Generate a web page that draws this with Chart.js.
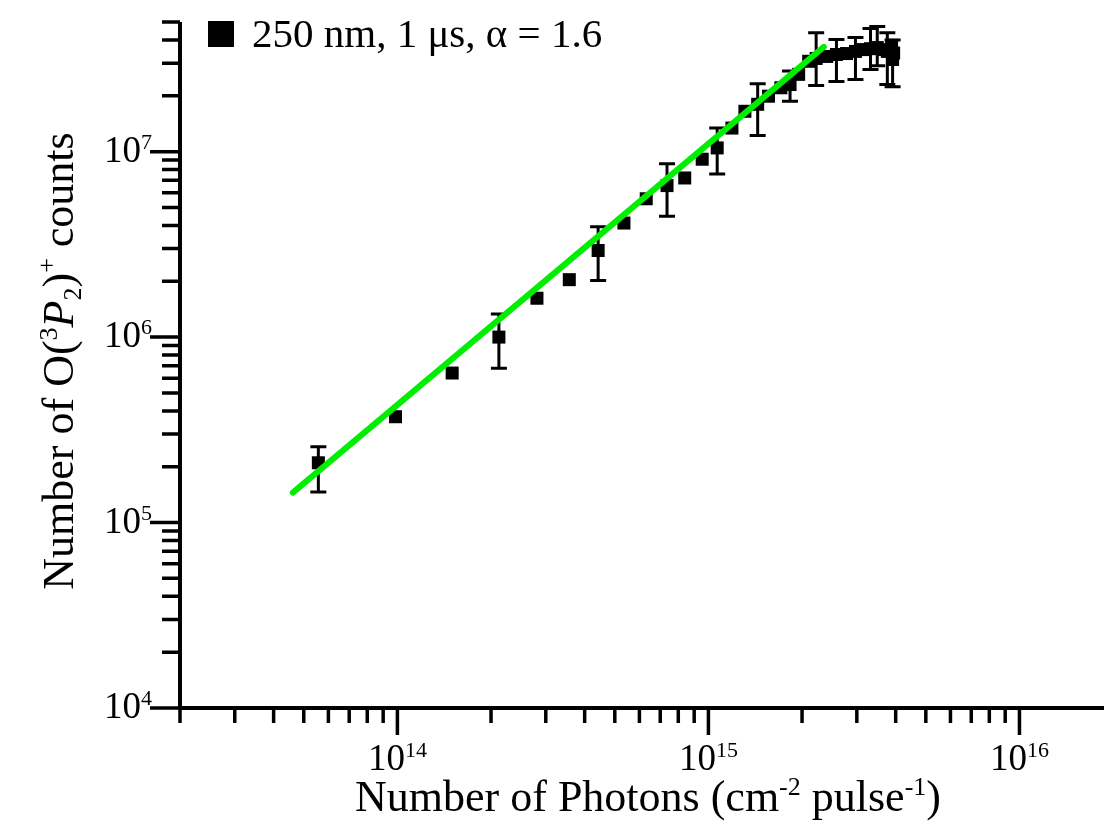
<!DOCTYPE html>
<html>
<head>
<meta charset="utf-8">
<script src="https://cdn.jsdelivr.net/npm/chart.js@4.4.0/dist/chart.umd.min.js"></script>
<style>
  html, body { margin: 0; padding: 0; background: #fff; }
  #wrap { width: 1104px; height: 825px; position: relative; }
</style>
</head>
<body>
<div id="wrap"><canvas id="photonChart"></canvas></div>
<script>
// photon fluence (cm^-2 pulse^-1) and O(3P2)+ counts
const photons = [5.57e13, 9.86e13, 1.50e14, 2.12e14, 2.81e14, 3.57e14, 4.42e14, 5.35e14, 6.31e14, 7.36e14,
  8.39e14, 9.55e14, 1.067e15, 1.19e15, 1.31e15, 1.44e15, 1.56e15, 1.71e15, 1.83e15, 1.95e15,
  2.10e15, 2.22e15, 2.40e15, 2.58e15, 2.78e15, 2.97e15, 3.15e15, 3.32e15, 3.49e15, 3.63e15,
  3.76e15, 3.88e15, 3.91e15, 3.94e15];
const counts = [2.1e5, 3.72e5, 6.4e5, 1.0e6, 1.62e6, 2.04e6, 2.93e6, 4.12e6, 5.57e6, 6.56e6,
  7.21e6, 9.1e6, 1.047e7, 1.34e7, 1.65e7, 1.8e7, 1.99e7, 2.21e7, 2.3e7, 2.61e7,
  3.07e7, 3.18e7, 3.26e7, 3.34e7, 3.38e7, 3.47e7, 3.55e7, 3.59e7, 3.64e7, 3.55e7,
  3.47e7, 3.74e7, 3.14e7, 3.4e7];
// error bar ends, null where the point has no bar
const errLow = [1.46e5, null, null, 6.8e5, null, null, 2.02e6, null, null, 4.48e6,
  null, null, 7.58e6, null, null, 1.22e7, null, null, 1.87e7, null,
  null, 2.27e7, null, 2.39e7, null, 2.45e7, null, 2.77e7, 2.9e7, null,
  2.3e7, null, 2.24e7, null];
const errHigh = [2.56e5, null, null, 1.33e6, null, null, 3.93e6, null, null, 8.61e6,
  null, null, 1.34e7, null, null, 2.32e7, null, null, 2.72e7, null,
  null, 4.37e7, null, 4.02e7, null, 4.12e7, null, 4.61e7, 4.73e7, null,
  4.38e7, null, 4.0e7, null];

// power-law fit line end points
const fitX = [4.61e13, 2.35e15];
const fitY = [1.45e5, 3.67e7];

const xMajorTicks = [1e14, 1e15, 1e16];
const yMajorTicks = [1e4, 1e5, 1e6, 1e7];
const legendLabel = '250 nm, 1 μs, α = 1.6';

const SERIF = '"Liberation Serif", "Times New Roman", serif';

function logTicks(min, max) {
  const out = [];
  for (let n = Math.floor(Math.log10(min)); n <= Math.ceil(Math.log10(max)); n++) {
    for (let k = 1; k <= 9; k++) {
      const v = k * Math.pow(10, n);
      if (v >= min * 0.999 && v <= max * 1.001) out.push(v);
    }
  }
  return out;
}

function drawRich(ctx, parts, x, y, align) {
  let total = 0;
  parts.forEach(p => { ctx.font = p.font; p.w = ctx.measureText(p.text).width; total += p.w; });
  let cx = align === 'center' ? x - total / 2 : align === 'right' ? x - total : x;
  ctx.textAlign = 'left';
  ctx.textBaseline = 'alphabetic';
  parts.forEach(p => {
    ctx.font = p.font;
    ctx.fillText(p.text, cx, y + (p.dy || 0));
    cx += p.w;
  });
}

const errorBars = {
  id: 'errorBars',
  beforeDatasetsDraw(chart) {
    const { ctx, scales: { x, y } } = chart;
    ctx.save();
    ctx.strokeStyle = '#000';
    ctx.lineWidth = 3;
    photons.forEach((p, i) => {
      if (errLow[i] == null) return;
      const px = x.getPixelForValue(p);
      const lo = y.getPixelForValue(errLow[i]);
      const hi = y.getPixelForValue(errHigh[i]);
      ctx.beginPath();
      ctx.moveTo(px, lo); ctx.lineTo(px, hi);
      ctx.moveTo(px - 8, lo); ctx.lineTo(px + 8, lo);
      ctx.moveTo(px - 8, hi); ctx.lineTo(px + 8, hi);
      ctx.stroke();
    });
    ctx.restore();
  }
};

const paperAxes = {
  id: 'paperAxes',
  afterDraw(chart) {
    const { ctx, chartArea: a, scales: { x, y } } = chart;
    const isMajor = v => Math.abs(Math.log10(v) - Math.round(Math.log10(v))) < 1e-9;
    ctx.save();
    ctx.strokeStyle = '#000';
    ctx.fillStyle = '#000';

    ctx.lineWidth = 4;
    ctx.beginPath();
    ctx.moveTo(a.left, a.top);
    ctx.lineTo(a.left, a.bottom);
    ctx.lineTo(a.right, a.bottom);
    ctx.stroke();

    ctx.lineWidth = 3.5;
    ctx.beginPath();
    logTicks(x.min, x.max).forEach(v => {
      const px = x.getPixelForValue(v);
      ctx.moveTo(px, a.bottom);
      ctx.lineTo(px, a.bottom + (isMajor(v) ? 27 : 15));
    });
    logTicks(y.min, y.max).forEach(v => {
      const py = y.getPixelForValue(v);
      ctx.moveTo(a.left, py);
      ctx.lineTo(a.left - (isMajor(v) ? 30 : 18), py);
    });
    ctx.stroke();

    // tick labels, 10 with superscript exponent
    const base = '37px ' + SERIF;
    const sup = '22px ' + SERIF;
    xMajorTicks.forEach(v => {
      const px = x.getPixelForValue(v);
      drawRich(ctx, [
        { text: '10', font: base },
        { text: String(Math.round(Math.log10(v))), font: sup, dy: -13 }
      ], px, a.bottom + 62, 'center');
    });
    yMajorTicks.forEach(v => {
      const py = y.getPixelForValue(v);
      drawRich(ctx, [
        { text: '10', font: base },
        { text: String(Math.round(Math.log10(v))), font: sup, dy: -13 }
      ], a.left - 28, py + 10, 'right');
    });

    // axis titles
    const tBase = '44px ' + SERIF;
    const tSup = '26px ' + SERIF;
    drawRich(ctx, [
      { text: 'Number of Photons (cm', font: tBase },
      { text: '-2', font: tSup, dy: -16 },
      { text: ' pulse', font: tBase },
      { text: '-1', font: tSup, dy: -16 },
      { text: ')', font: tBase }
    ], 648, 811, 'center');

    ctx.save();
    ctx.translate(73, 361);
    ctx.rotate(-Math.PI / 2);
    drawRich(ctx, [
      { text: 'Number of O(', font: tBase },
      { text: '3', font: tSup, dy: -16 },
      { text: 'P', font: 'italic ' + tBase },
      { text: '2', font: tSup, dy: 8 },
      { text: ')', font: tBase },
      { text: '+', font: tSup, dy: -18 },
      { text: ' counts', font: tBase }
    ], 0, 0, 'center');
    ctx.restore();

    // legend
    ctx.fillRect(208, 21, 26, 26);
    ctx.font = '41px ' + SERIF;
    ctx.textAlign = 'left';
    ctx.textBaseline = 'alphabetic';
    ctx.fillText(legendLabel, 252, 47);

    ctx.restore();
  }
};

const points = photons.map((p, i) => ({ x: p, y: counts[i] }));
const fitPoints = fitX.map((p, i) => ({ x: p, y: fitY[i] }));

new Chart(document.getElementById('photonChart'), {
  type: 'scatter',
  data: {
    datasets: [
      {
        label: legendLabel,
        data: points,
        pointStyle: 'rect',
        pointRadius: 9.2,
        backgroundColor: '#000',
        borderWidth: 0,
        order: 2
      },
      {
        type: 'line',
        label: 'fit',
        data: fitPoints,
        borderColor: '#00ee00',
        borderWidth: 6,
        borderCapStyle: 'round',
        pointRadius: 0,
        order: 1
      }
    ]
  },
  options: {
    responsive: true,
    maintainAspectRatio: false,
    animation: false,
    layout: { autoPadding: false, padding: { left: 180, right: 0, top: 22, bottom: 117 } },
    plugins: { legend: { display: false }, tooltip: { enabled: false } },
    scales: {
      x: { type: 'logarithmic', min: 2e13, max: 1.87e16, display: false },
      y: { type: 'logarithmic', min: 1e4, max: 5e7, display: false }
    }
  },
  plugins: [errorBars, paperAxes]
});
</script>
</body>
</html>
